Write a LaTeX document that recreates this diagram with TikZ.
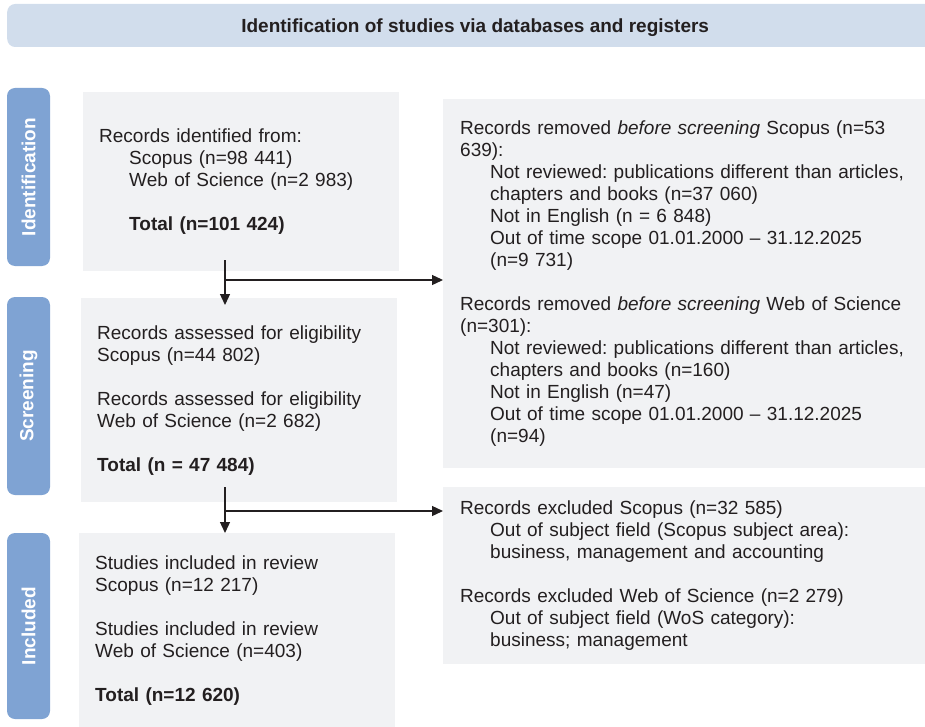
\documentclass[tikz,border=0pt]{standalone}
\usepackage{fontspec}
\setmainfont{Liberation Sans}
\usetikzlibrary{arrows.meta}
\definecolor{boxgrey}{HTML}{F1F2F4}
\definecolor{headblue}{HTML}{D1DDEC}
\definecolor{sideblue}{HTML}{7FA3D3}
\definecolor{ink}{HTML}{231F20}
\newcommand{\indentby}{\hspace*{30pt}}
\frenchspacing
\begin{document}
\begin{tikzpicture}[x=1pt, y=-1pt,
   font=\fontsize{19}{22}\selectfont, text=ink,
   box/.style={fill=boxgrey, anchor=north west, align=left, inner xsep=16pt, text width=284pt},
   widebox/.style={box, inner xsep=17pt, text width=448pt},
   phase/.style={fill=sideblue, rounded corners=8pt, rotate=90, text=white,
     font=\fontsize{19}{22}\selectfont\bfseries, minimum height=43pt, inner sep=0pt},
   header/.style={fill=headblue, rounded corners=8pt, anchor=west, minimum width=936pt,
     minimum height=43pt, text depth=0pt, font=\fontsize{19}{22}\selectfont\bfseries},
   flow/.style={draw=ink, line width=1.3pt, -{Triangle[length=11pt,width=10pt]}}]
   \useasboundingbox (0,0) rectangle (925,727);
   \node[header] (title) at (7,25.5) {Identification of studies via databases and registers};
   % phases
   \node[phase, minimum width=178pt] (phaseid) at (28.5,177) {Identification};
   \node[phase, minimum width=198pt] (phasesc) at (28.5,396) {Screening};
   \node[phase, minimum width=186pt] (phasein) at (28.5,626) {Included};
   % left column
   \node[box, minimum height=179pt] (ident) at (83,92) {Records identified from:\\
     \indentby Scopus (n=98 441)\\
     \indentby Web of Science (n=2 983)\\[22pt]
     \indentby\textbf{Total (n=101 424)}};
   \node[box, minimum height=204pt] (screen) at (81,298) {Records assessed for eligibility\\
     Scopus (n=44 802)\\[22pt]
     Records assessed for eligibility\\
     Web of Science (n=2 682)\\[22pt]
     \textbf{Total (n = 47 484)}};
   \node[box, minimum height=194pt] (incl) at (79,533) {Studies included in review\\
     Scopus (n=12 217)\\[22pt]
     Studies included in review\\
     Web of Science (n=403)\\[22pt]
     \textbf{Total (n=12 620)}};
   % right column
   \node[widebox, minimum height=369pt] (removed) at (443,99) {Records removed \textit{before screening} Scopus (n=53\\
     639):\\
     \indentby Not reviewed: publications different than articles,\\
     \indentby chapters and books (n=37 060)\\
     \indentby Not in English (n = 6 848)\\
     \indentby Out of time scope 01.01.2000 -- 31.12.2025\\
     \indentby (n=9 731)\\[22pt]
     Records removed \textit{before screening} Web of Science\\
     (n=301):\\
     \indentby Not reviewed: publications different than articles,\\
     \indentby chapters and books (n=160)\\
     \indentby Not in English (n=47)\\
     \indentby Out of time scope 01.01.2000 -- 31.12.2025\\
     \indentby (n=94)};
   \node[widebox, minimum height=177pt] (excluded) at (443,487) {Records excluded Scopus (n=32 585)\\
     \indentby Out of subject field (Scopus subject area):\\
     \indentby business, management and accounting\\[22pt]
     Records excluded Web of Science (n=2 279)\\
     \indentby Out of subject field (WoS category):\\
     \indentby business; management};
   % connectors
   \coordinate (split1) at (225,280);
   \coordinate (split2) at (225,511);
   \draw[flow] ([xshift=142pt,yshift=11pt]ident.south west) -- (split1)
     -- ([xshift=144pt,yshift=-7pt]screen.north west);
   \draw[flow] (split1) -- (split1 -| removed.west);
   \draw[flow] ([xshift=144pt,yshift=15pt]screen.south west) -- ([xshift=146pt]incl.north west);
   \draw[flow] (split2) -- (split2 -| excluded.west);
\end{tikzpicture}
\end{document}
